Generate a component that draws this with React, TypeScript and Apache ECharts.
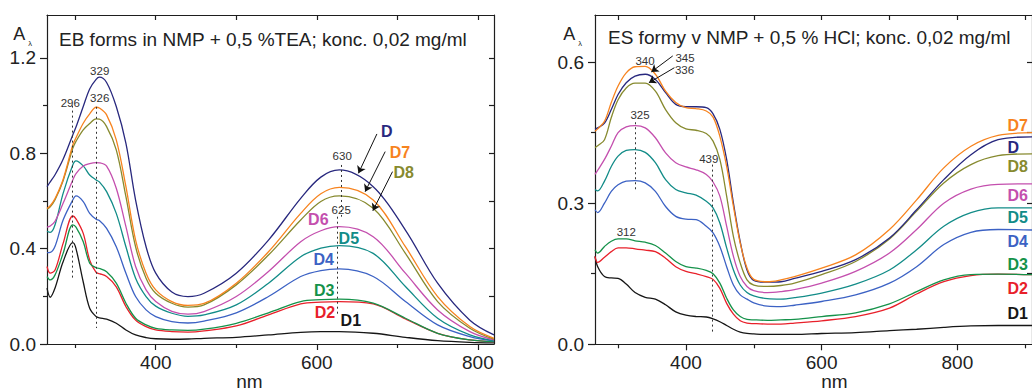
import React, { useEffect, useRef } from "react";
import * as echarts from "echarts";

const FONT = "'Liberation Sans', Arial, sans-serif";

// ---------- Left panel: EB forms (wavelength nm) ----------
const WL_EB = [265, 269, 275, 285, 297, 301, 310, 318, 326, 330, 339, 351, 363, 375, 388, 400, 420, 440, 460, 500, 540, 580, 605, 628, 670, 710, 750, 790, 820];
const EB_D = [0.66, 0.68, 0.71, 0.775, 0.877, 0.91, 0.996, 1.07, 1.11, 1.119, 1.097, 0.996, 0.842, 0.604, 0.408, 0.297, 0.218, 0.199, 0.213, 0.297, 0.436, 0.611, 0.7, 0.73, 0.66, 0.478, 0.255, 0.1, 0.038];
const EB_D7 = [0.569, 0.58, 0.61, 0.69, 0.835, 0.865, 0.926, 0.965, 0.993, 0.99, 0.961, 0.856, 0.66, 0.436, 0.297, 0.227, 0.178, 0.162, 0.17, 0.255, 0.387, 0.548, 0.63, 0.657, 0.604, 0.408, 0.199, 0.073, 0.024];
const EB_D8 = [0.565, 0.575, 0.605, 0.685, 0.821, 0.85, 0.898, 0.925, 0.944, 0.943, 0.912, 0.814, 0.618, 0.408, 0.276, 0.213, 0.171, 0.155, 0.164, 0.248, 0.373, 0.52, 0.598, 0.621, 0.569, 0.38, 0.178, 0.066, 0.02];
const EB_D6 = [0.49, 0.495, 0.515, 0.59, 0.688, 0.715, 0.747, 0.757, 0.761, 0.76, 0.746, 0.653, 0.492, 0.325, 0.227, 0.178, 0.137, 0.125, 0.136, 0.199, 0.304, 0.429, 0.475, 0.492, 0.45, 0.297, 0.143, 0.052, 0.017];
const EB_D5 = [0.473, 0.468, 0.5, 0.632, 0.751, 0.768, 0.747, 0.709, 0.688, 0.68, 0.639, 0.548, 0.408, 0.276, 0.199, 0.159, 0.129, 0.116, 0.122, 0.164, 0.255, 0.366, 0.402, 0.413, 0.38, 0.241, 0.108, 0.038, 0.014];
const EB_D4 = [0.383, 0.384, 0.41, 0.52, 0.604, 0.621, 0.597, 0.548, 0.523, 0.518, 0.485, 0.408, 0.297, 0.199, 0.143, 0.115, 0.094, 0.088, 0.096, 0.131, 0.199, 0.283, 0.308, 0.315, 0.283, 0.178, 0.08, 0.031, 0.013];
const EB_D3 = [0.283, 0.269, 0.29, 0.38, 0.5, 0.49, 0.429, 0.339, 0.32, 0.317, 0.303, 0.255, 0.171, 0.108, 0.08, 0.066, 0.059, 0.057, 0.062, 0.087, 0.131, 0.178, 0.186, 0.188, 0.171, 0.108, 0.045, 0.017, 0.01];
const EB_D2 = [0.325, 0.297, 0.31, 0.422, 0.537, 0.525, 0.464, 0.352, 0.3, 0.295, 0.283, 0.24, 0.157, 0.1, 0.073, 0.059, 0.052, 0.05, 0.055, 0.076, 0.122, 0.168, 0.176, 0.178, 0.168, 0.105, 0.045, 0.017, 0.01];
const EB_D1 = [0.234, 0.196, 0.235, 0.345, 0.425, 0.4, 0.26, 0.15, 0.115, 0.11, 0.104, 0.087, 0.059, 0.038, 0.027, 0.022, 0.02, 0.021, 0.024, 0.028, 0.038, 0.049, 0.052, 0.052, 0.045, 0.028, 0.014, 0.007, 0.005];

// ---------- Right panel: ES forms ----------
const WL_ES = [266, 270, 280, 290, 300, 312, 325, 340, 355, 370, 385, 400, 415, 430, 440, 450, 460, 470, 480, 490, 500, 520, 540, 560, 600, 650, 700, 740, 780, 820, 860, 910];
const ES_D7 = [0.453, 0.458, 0.474, 0.514, 0.549, 0.577, 0.59, 0.591, 0.574, 0.538, 0.514, 0.503, 0.501, 0.496, 0.483, 0.442, 0.378, 0.293, 0.215, 0.162, 0.138, 0.133, 0.137, 0.144, 0.162, 0.19, 0.244, 0.307, 0.375, 0.421, 0.444, 0.45];
const ES_D = [0.457, 0.46, 0.47, 0.499, 0.531, 0.556, 0.57, 0.574, 0.563, 0.535, 0.51, 0.505, 0.505, 0.503, 0.49, 0.457, 0.393, 0.3, 0.218, 0.158, 0.136, 0.132, 0.133, 0.14, 0.155, 0.18, 0.226, 0.286, 0.35, 0.403, 0.435, 0.441];
const ES_D8 = [0.418, 0.422, 0.435, 0.482, 0.52, 0.545, 0.555, 0.555, 0.538, 0.499, 0.471, 0.458, 0.455, 0.448, 0.432, 0.393, 0.315, 0.229, 0.173, 0.137, 0.126, 0.123, 0.125, 0.13, 0.148, 0.176, 0.224, 0.283, 0.343, 0.382, 0.401, 0.405];
const ES_D6 = [0.361, 0.37, 0.393, 0.421, 0.45, 0.462, 0.465, 0.46, 0.439, 0.407, 0.386, 0.377, 0.371, 0.361, 0.345, 0.315, 0.251, 0.187, 0.144, 0.123, 0.114, 0.11, 0.112, 0.116, 0.13, 0.155, 0.194, 0.244, 0.3, 0.33, 0.34, 0.341];
const ES_D5 = [0.329, 0.326, 0.347, 0.378, 0.4, 0.412, 0.414, 0.408, 0.386, 0.35, 0.329, 0.322, 0.317, 0.304, 0.29, 0.258, 0.205, 0.158, 0.126, 0.11, 0.103, 0.097, 0.096, 0.099, 0.109, 0.128, 0.158, 0.201, 0.251, 0.28, 0.29, 0.29];
const ES_D4 = [0.286, 0.28, 0.3, 0.325, 0.339, 0.347, 0.348, 0.343, 0.325, 0.293, 0.272, 0.266, 0.265, 0.251, 0.237, 0.208, 0.165, 0.126, 0.105, 0.096, 0.088, 0.081, 0.08, 0.083, 0.091, 0.105, 0.13, 0.165, 0.212, 0.238, 0.244, 0.243];
const ES_D3 = [0.201, 0.194, 0.208, 0.219, 0.224, 0.224, 0.22, 0.217, 0.21, 0.194, 0.176, 0.165, 0.162, 0.157, 0.15, 0.13, 0.098, 0.073, 0.059, 0.053, 0.052, 0.051, 0.052, 0.053, 0.059, 0.067, 0.086, 0.112, 0.137, 0.148, 0.149, 0.148];
const ES_D2 = [0.187, 0.174, 0.185, 0.197, 0.205, 0.205, 0.203, 0.2, 0.197, 0.183, 0.165, 0.155, 0.15, 0.144, 0.138, 0.119, 0.087, 0.064, 0.05, 0.045, 0.044, 0.043, 0.043, 0.045, 0.05, 0.059, 0.077, 0.107, 0.133, 0.146, 0.149, 0.148];
const ES_D1 = [0.187, 0.165, 0.144, 0.141, 0.14, 0.128, 0.11, 0.1, 0.096, 0.084, 0.069, 0.062, 0.059, 0.058, 0.054, 0.048, 0.04, 0.032, 0.026, 0.023, 0.022, 0.021, 0.021, 0.021, 0.023, 0.025, 0.029, 0.032, 0.036, 0.039, 0.04, 0.04];

// ---------- Tick values ----------
const EB_X_LABELS = [400, 600, 800];
const EB_X_MINOR = [300, 500, 700];
const EB_X_TOP = [300, 400, 500, 600, 700, 800];
const EB_Y_LABELS = [0, 0.4, 0.8, 1.2];
const EB_Y_MINOR = [0.2, 0.6, 1.0];
const EB_Y_RIGHT = [0.2, 0.4, 0.6, 0.8, 1.0, 1.2];
const ES_X_LABELS = [400, 600, 800];
const ES_X_MINOR = [300, 500, 700, 900];
const ES_X_TOP = [300, 400, 500, 600, 700, 800, 900];
const ES_Y_LABELS = [0, 0.3, 0.6];
const ES_Y_MINOR = [0.15, 0.45];
const ES_Y_RIGHT = [0.15, 0.3, 0.45, 0.6];

// ---------- Annotation guide lines (data coords) ----------
const EB_DOTTED = [[[296, 1.0], [296, 0.27]], [[326, 0.995], [326, 0.067]], [[630, 0.751], [630, 0.534]], [[625, 0.534], [625, 0.115]]];
const EB_ARROWS = [[[674.6, 0.881], [651.7, 0.716]], [[684.9, 0.807], [660, 0.639]], [[694, 0.723], [669.6, 0.559]]];
const ES_DOTTED = [[[325, 0.472], [325, 0.329]], [[439, 0.382], [439, 0.023]]];
const ES_ARROWS = [[[380.6, 0.613], [349, 0.579]], [[383, 0.588], [345.4, 0.556]]];

const COLORS: Record<string, string> = {
  D: "#28287e",
  D7: "#f7831e",
  D8: "#878a2f",
  D6: "#c44fae",
  D5: "#128c88",
  D4: "#3c62c4",
  D3: "#15924a",
  D2: "#e8202a",
  D1: "#161616",
};

const EB_SERIES: [string, number[]][] = [
  ["D1", EB_D1], ["D2", EB_D2], ["D3", EB_D3], ["D4", EB_D4], ["D5", EB_D5], ["D6", EB_D6], ["D8", EB_D8], ["D7", EB_D7], ["D", EB_D],
];
const ES_SERIES: [string, number[]][] = [
  ["D1", ES_D1], ["D2", ES_D2], ["D3", ES_D3], ["D4", ES_D4], ["D5", ES_D5], ["D6", ES_D6], ["D8", ES_D8], ["D", ES_D], ["D7", ES_D7],
];

const AXIS_COLOR = "#1e1e1e";

function xAxesFor(grid: number, min: number, max: number, labels: number[], minor: number[], top: number[]) {
  const line = { color: AXIS_COLOR, width: 1.2 };
  return [
    {
      type: "value", gridIndex: grid, min, max, position: "bottom",
      axisLine: { show: true, onZero: false, lineStyle: line },
      axisTick: { show: true, inside: false, length: 6, customValues: labels, lineStyle: line },
      axisLabel: { show: true, customValues: labels, fontSize: 19, color: "#222", fontFamily: FONT, margin: 9 },
      splitLine: { show: false },
    },
    {
      type: "value", gridIndex: grid, min, max, position: "bottom",
      axisLine: { show: false, onZero: false },
      axisTick: { show: true, inside: false, length: 4, customValues: minor, lineStyle: line },
      axisLabel: { show: false },
      splitLine: { show: false },
    },
    {
      type: "value", gridIndex: grid, min, max, position: "top",
      axisLine: { show: true, onZero: false, lineStyle: line },
      axisTick: { show: true, inside: true, length: 5, customValues: top, lineStyle: line },
      axisLabel: { show: false },
      splitLine: { show: false },
    },
  ];
}

function yAxesFor(grid: number, max: number, labels: number[], minor: number[], right: number[]) {
  const line = { color: AXIS_COLOR, width: 1.2 };
  return [
    {
      type: "value", gridIndex: grid, min: 0, max, position: "left",
      axisLine: { show: true, onZero: false, lineStyle: line },
      axisTick: { show: true, inside: false, length: 7, customValues: labels, lineStyle: line },
      axisLabel: {
        show: true, customValues: labels, fontSize: 19, color: "#222", fontFamily: FONT, margin: 11,
        formatter: (v: number) => v.toFixed(1),
      },
      splitLine: { show: false },
    },
    {
      type: "value", gridIndex: grid, min: 0, max, position: "left",
      axisLine: { show: false, onZero: false },
      axisTick: { show: true, inside: false, length: 4, customValues: minor, lineStyle: line },
      axisLabel: { show: false },
      splitLine: { show: false },
    },
    {
      type: "value", gridIndex: grid, min: 0, max, position: "right",
      axisLine: { show: true, onZero: false, lineStyle: line },
      axisTick: { show: true, inside: true, length: 5, customValues: right, lineStyle: line },
      axisLabel: { show: false },
      splitLine: { show: false },
    },
  ];
}

function buildSeries(list: [string, number[]][], wl: number[], axisIdx: number, dotted: number[][][], arrows: number[][][]) {
  return list.map(([name, vals], i) => {
    const s: any = {
      type: "line",
      name: name + (axisIdx === 0 ? "-EB" : "-ES"),
      xAxisIndex: axisIdx,
      yAxisIndex: axisIdx,
      data: wl.map((x, k) => [x, vals[k]]),
      showSymbol: false,
      smooth: 0.35,
      lineStyle: { color: COLORS[name], width: 1.3 },
      itemStyle: { color: COLORS[name] },
      z: 2,
    };
    if (i === 0) {
      s.markLine = {
        silent: true,
        symbol: ["none", "none"],
        label: { show: false },
        lineStyle: { type: [2, 3], color: "#333", width: 1 },
        data: dotted.map(([a, b]) => [{ coord: a }, { coord: b }]),
        z: 3,
      };
    }
    if (i === list.length - 1) {
      s.markLine = {
        silent: true,
        symbol: ["none", "arrow"],
        symbolSize: 7,
        label: { show: false },
        lineStyle: { type: "solid", color: "#111", width: 1 },
        data: arrows.map(([a, b]) => [{ coord: a }, { coord: b }]),
        z: 4,
      };
    }
    return s;
  });
}

function txt(x: number, y: number, text: string, size: number, fill: string, opts: any = {}) {
  return {
    type: "text",
    x,
    y,
    z: 10,
    style: {
      text,
      fill,
      fontSize: size,
      fontFamily: FONT,
      fontWeight: opts.bold ? "bold" : "normal",
      align: opts.align || "center",
      verticalAlign: "middle",
    },
  };
}

export default function App() {
  const ref = useRef<HTMLDivElement>(null);
  useEffect(() => {
    if (!ref.current) return;
    const chart = echarts.init(ref.current, undefined, { renderer: "svg" });

    const labelsLeft = [
      txt(386.7, 131, "D", 16, COLORS.D, { bold: true }),
      txt(400, 152, "D7", 16, COLORS.D7, { bold: true }),
      txt(403.7, 172.5, "D8", 16, COLORS.D8, { bold: true }),
      txt(318.3, 219.5, "D6", 16, COLORS.D6, { bold: true }),
      txt(348.8, 238.3, "D5", 16, COLORS.D5, { bold: true }),
      txt(323.7, 259.2, "D4", 16, COLORS.D4, { bold: true }),
      txt(324.2, 290, "D3", 16, COLORS.D3, { bold: true }),
      txt(325, 312.5, "D2", 16, COLORS.D2, { bold: true }),
      txt(350.8, 320.8, "D1", 16, COLORS.D1, { bold: true }),
    ];
    const labelsRight = [
      txt(1007.5, 125.8, "D7", 16, COLORS.D7, { bold: true, align: "left" }),
      txt(1007.5, 147.5, "D", 16, COLORS.D, { bold: true, align: "left" }),
      txt(1007.5, 166.2, "D8", 16, COLORS.D8, { bold: true, align: "left" }),
      txt(1007.5, 195.8, "D6", 16, COLORS.D6, { bold: true, align: "left" }),
      txt(1007.5, 217.5, "D5", 16, COLORS.D5, { bold: true, align: "left" }),
      txt(1007.5, 241.8, "D4", 16, COLORS.D4, { bold: true, align: "left" }),
      txt(1007.5, 264.2, "D3", 16, COLORS.D3, { bold: true, align: "left" }),
      txt(1007.5, 288.5, "D2", 16, COLORS.D2, { bold: true, align: "left" }),
      txt(1007.5, 313.2, "D1", 16, COLORS.D1, { bold: true, align: "left" }),
    ];
    const notes = [
      txt(99.7, 71, "329", 11.5, "#333"),
      txt(70.3, 102.5, "296", 11.5, "#333"),
      txt(99.7, 97.5, "326", 11.5, "#333"),
      txt(342.2, 155.8, "630", 11.5, "#333"),
      txt(341.2, 210, "625", 11.5, "#333"),
      txt(645, 60.8, "340", 11.5, "#333"),
      txt(685, 57.5, "345", 11.5, "#333"),
      txt(684.5, 70.2, "336", 11.5, "#333"),
      txt(640, 115.2, "325", 11.5, "#333"),
      txt(708.8, 159.2, "439", 11.5, "#333"),
      txt(626.3, 231.5, "312", 11.5, "#333"),
    ];
    const frameTexts = [
      txt(59, 39.5, "EB forms in NMP + 0,5 %TEA; konc. 0,02 mg/ml", 19, "#222", { align: "left" }),
      txt(608, 37.5, "ES formy v NMP + 0,5 % HCl; konc. 0,02 mg/ml", 19, "#222", { align: "left" }),
      txt(19.2, 34.2, "A", 18, "#222"),
      txt(30, 43.5, "λ", 7.5, "#222"),
      txt(569.2, 34.2, "A", 18, "#222"),
      txt(580, 43.5, "λ", 7.5, "#222"),
      txt(249.5, 381, "nm", 19, "#222"),
      txt(834.5, 381, "nm", 19, "#222"),
    ];

    const option: any = {
      animation: false,
      backgroundColor: "#ffffff",
      grid: [
        { left: 47, top: 15, width: 447, height: 329, containLabel: false },
        { left: 595, top: 15, width: 440, height: 329.3, containLabel: false },
      ],
      xAxis: [
        ...xAxesFor(0, 265, 820, EB_X_LABELS, EB_X_MINOR, EB_X_TOP),
        ...xAxesFor(1, 266, 910, ES_X_LABELS, ES_X_MINOR, ES_X_TOP),
      ],
      yAxis: [
        ...yAxesFor(0, 1.38, EB_Y_LABELS, EB_Y_MINOR, EB_Y_RIGHT),
        ...yAxesFor(1, 0.7, ES_Y_LABELS, ES_Y_MINOR, ES_Y_RIGHT),
      ],
      series: [
        ...buildSeries(EB_SERIES, WL_EB, 0, EB_DOTTED, EB_ARROWS),
        ...buildSeries(ES_SERIES, WL_ES, 3, ES_DOTTED, ES_ARROWS),
      ],
      graphic: [...frameTexts, ...notes, ...labelsLeft, ...labelsRight],
    };
    chart.setOption(option);
    return () => chart.dispose();
  }, []);

  return (
    <div
      ref={ref}
      style={{ position: "fixed", left: 0, top: 0, width: 1032, height: 392, background: "#fff" }}
    />
  );
}
